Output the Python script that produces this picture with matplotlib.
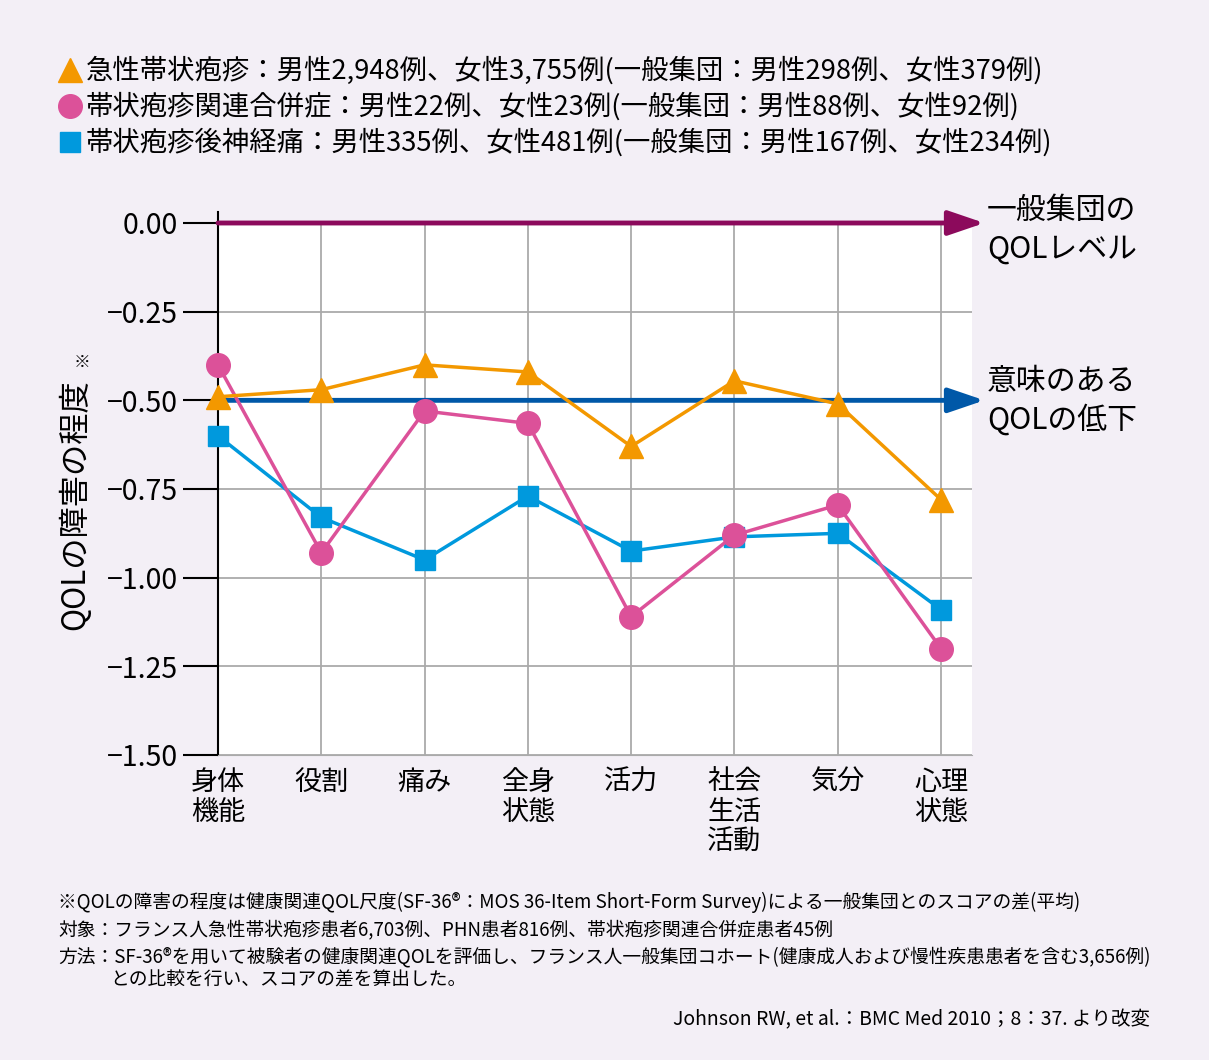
import matplotlib
matplotlib.use('Agg')
import matplotlib.pyplot as plt
from matplotlib.lines import Line2D

plt.rcParams['font.family'] = ['Noto Sans CJK JP', 'DejaVu Sans']

# データ
categories = ['身体\n機能', '役割', '痛み', '全身\n状態', '活力', '社会\n生活\n活動', '気分', '心理\n状態']
acute = [-0.49, -0.47, -0.40, -0.42, -0.63, -0.445, -0.51, -0.78]
complication = [-0.40, -0.93, -0.53, -0.565, -1.11, -0.88, -0.795, -1.20]
phn = [-0.60, -0.83, -0.95, -0.77, -0.925, -0.885, -0.875, -1.09]
yticks = [0.0, -0.25, -0.5, -0.75, -1.0, -1.25, -1.5]
legend_labels = [
    '急性帯状疱疹：男性2,948例、女性3,755例(一般集団：男性298例、女性379例)',
    '帯状疱疹関連合併症：男性22例、女性23例(一般集団：男性88例、女性92例)',
    '帯状疱疹後神経痛：男性335例、女性481例(一般集団：男性167例、女性234例)',
]

bg = '#f3eff6'
c_orange = '#f39800'
c_pink = '#dc5199'
c_blue = '#0099dd'
c_purple = '#8c0a5c'
c_navy = '#0058a8'

W, H = 1209, 1060
fig = plt.figure(figsize=(W / 100, H / 100), dpi=100, facecolor=bg)

def fx(px):
    return px / W

def fy(py):
    return 1 - py / H

ax = fig.add_axes([fx(218), fy(755), fx(972) - fx(218), fy(223) - fy(755)])
ax.set_facecolor('white')
x = list(range(len(categories)))

ax.set_xlim(0, 7.3)
ax.set_ylim(-1.5, 0)

for v in yticks:
    ax.axhline(v, color='#aaaaaa', lw=1.3, zorder=1)
for i in x:
    ax.axvline(i, color='#aaaaaa', lw=1.3, zorder=1)

# 参照線（矢印）
arrow_style = '-|>,head_length=2.2,head_width=0.75'
ax.annotate('', xy=(7.42, 0), xytext=(0, 0), annotation_clip=False,
            arrowprops=dict(arrowstyle=arrow_style, color=c_purple, lw=3.5,
                            shrinkA=0, shrinkB=0), zorder=3)
ax.annotate('', xy=(7.42, -0.5), xytext=(0, -0.5), annotation_clip=False,
            arrowprops=dict(arrowstyle=arrow_style, color=c_navy, lw=3.5,
                            shrinkA=0, shrinkB=0), zorder=3)

ax.plot(x, phn, color=c_blue, lw=2.5, marker='s', ms=14, zorder=4, clip_on=False)
ax.plot(x, complication, color=c_pink, lw=2.5, marker='o', ms=17, zorder=5, clip_on=False)
ax.plot(x, acute, color=c_orange, lw=2.5, marker='^', ms=17, zorder=6, clip_on=False)

ax.set_yticks(yticks)
ax.set_yticklabels(['0.00', '−0.25', '−0.50', '−0.75', '−1.00', '−1.25', '−1.50'])
ax.tick_params(axis='y', length=25, width=1.5, direction='out', labelsize=20.5, pad=4)
ax.set_xticks(x)
ax.set_xticklabels(categories, fontsize=19.5, linespacing=1.15, va='top')
ax.tick_params(axis='x', length=0, pad=10)

for s in ['top', 'right']:
    ax.spines[s].set_visible(False)
ax.spines['left'].set_linewidth(1.5)
ax.spines['left'].set_bounds(-1.5, 0.03)
ax.spines['bottom'].set_color('#aaaaaa')

# 右側ラベル
fig.text(fx(987), fy(210), '一般集団の', fontsize=21.5, va='center', ha='left')
fig.text(fx(987), fy(249), 'QOLレベル', fontsize=21.5, va='center', ha='left')
fig.text(fx(987), fy(381), '意味のある', fontsize=21.5, va='center', ha='left')
fig.text(fx(987), fy(420), 'QOLの低下', fontsize=21.5, va='center', ha='left')

# y軸ラベル
fig.text(fx(75), fy(505), 'QOLの障害の程度', fontsize=22.5, rotation=90, va='center', ha='center')
fig.text(fx(82), fy(362), '※', fontsize=12, va='center', ha='center')

# 凡例
markers = [('^', c_orange, 17), ('o', c_pink, 17), ('s', c_blue, 14)]
for k, (lab, (m, c, s)) in enumerate(zip(legend_labels, markers)):
    yy = 70 + k * 36
    fig.add_artist(Line2D([fx(70)], [fy(yy)], marker=m, color=c, ms=s, transform=fig.transFigure))
    fig.text(fx(86), fy(yy), lab, fontsize=19.7, va='center', ha='left')

# 注記
notes = [
    (58, 902, '※QOLの障害の程度は健康関連QOL尺度(SF-36®：MOS 36-Item Short-Form Survey)による一般集団とのスコアの差(平均)'),
    (58, 930, '対象：フランス人急性帯状疱疹患者6,703例、PHN患者816例、帯状疱疹関連合併症患者45例'),
    (58, 957, '方法：SF-36®を用いて被験者の健康関連QOLを評価し、フランス人一般集団コホート(健康成人および慢性疾患患者を含む3,656例)'),
    (110, 980, 'との比較を行い、スコアの差を算出した。'),
]
for px, py, t in notes:
    fig.text(fx(px), fy(py), t, fontsize=13.5, va='center', ha='left')
fig.text(fx(1150), fy(1020), 'Johnson RW, et al.：BMC Med 2010；8：37. より改変', fontsize=14, va='center', ha='right')

fig.savefig('out.png', dpi=100, facecolor=bg)
